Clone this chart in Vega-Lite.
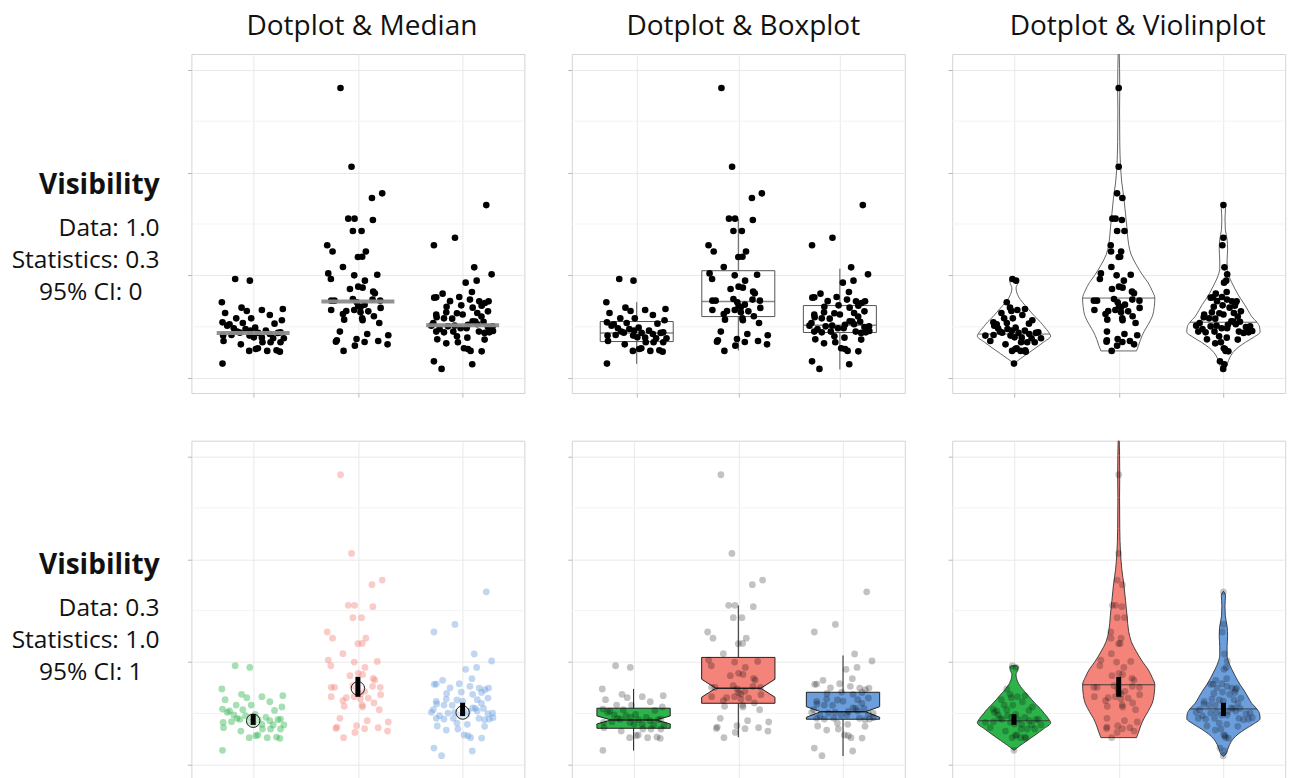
{
  "$schema": "https://vega.github.io/schema/vega-lite/v6.json",
  "padding": {"left": 0, "top": 12, "right": 0, "bottom": 0},
  "background": "white",
  "bounds": "flush",
  "align": "each",
  "columns": 4,
  "spacing": {"row": 47.7, "column": 47.4},
  "resolve": {"scale": {"x": "independent", "y": "independent", "color": "shared"}},
  "config": {
    "font": "Open Sans",
    "view": {"stroke": "#d4d4d4", "strokeWidth": 1},
    "axisX": {"labels": false, "domain": false, "ticks": true, "tickSize": 4, "tickColor": "#b8b8b8", "grid": true, "gridColor": "#e9e9e9", "tickCount": 3, "titleOpacity": 0},
    "axisY": {"labels": false, "domain": false, "ticks": true, "tickSize": 4, "tickColor": "#b8b8b8", "grid": true, "gridColor": "#e9e9e9", "titleOpacity": 0}
  },
  "datasets": {
    "lab1": [
      {"t": "Visibility", "line": 0, "k": "h"},
      {"t": "Data: 1.0", "line": 1.333, "k": "b"},
      {"t": "Statistics: 0.3", "line": 2.333, "k": "b"},
      {"t": "95% CI: 0", "line": 3.333, "k": "c"}
    ],
    "lab2": [
      {"t": "Visibility", "line": 0, "k": "h"},
      {"t": "Data: 0.3", "line": 1.333, "k": "b"},
      {"t": "Statistics: 1.0", "line": 2.333, "k": "b"},
      {"t": "95% CI: 1", "line": 3.333, "k": "c"}
    ],
    "grid": [
      {"v": 0, "major": true}, {"v": 0.5, "major": false}, {"v": 1, "major": true}, {"v": 1.5, "major": false},
      {"v": 2, "major": true}, {"v": 2.5, "major": false}, {"v": 3, "major": true}
    ],
    "stats": [
      {"g": "g1", "c": 1, "lo": 0.14, "q1": 0.357, "med": 0.44, "q3": 0.552, "hi": 0.74, "mean": 0.43, "cil": 0.39, "cih": 0.495, "nmed": 0.438, "nxl": 0.785, "nxr": 1.215, "vmed": 0.43, "vxl": 0.66, "vxr": 1.34},
      {"g": "g2", "c": 2, "lo": 0.27, "q1": 0.6, "med": 0.746, "q3": 1.046, "hi": 1.55, "mean": 0.745, "cil": 0.663, "cih": 0.857, "nmed": 0.746, "nxl": 1.785, "nxr": 2.215, "vmed": 0.78, "vxl": 1.655, "vxr": 2.345},
      {"g": "g3", "c": 3, "lo": 0.087, "q1": 0.445, "med": 0.515, "q3": 0.707, "hi": 1.065, "mean": 0.51, "cil": 0.476, "cih": 0.605, "nmed": 0.518, "nxl": 2.785, "nxr": 3.215, "vmed": 0.545, "vxl": 2.68, "vxr": 3.32}
    ],
    "notch": [
      {"g": "g1", "y": 0.357, "xl": 0.65, "xr": 1.35},
      {"g": "g1", "y": 0.399, "xl": 0.65, "xr": 1.35},
      {"g": "g1", "y": 0.438, "xl": 0.785, "xr": 1.215},
      {"g": "g1", "y": 0.477, "xl": 0.65, "xr": 1.35},
      {"g": "g1", "y": 0.552, "xl": 0.65, "xr": 1.35},
      {"g": "g2", "y": 0.6, "xl": 1.65, "xr": 2.35},
      {"g": "g2", "y": 0.659, "xl": 1.65, "xr": 2.35},
      {"g": "g2", "y": 0.746, "xl": 1.785, "xr": 2.215},
      {"g": "g2", "y": 0.834, "xl": 1.65, "xr": 2.35},
      {"g": "g2", "y": 1.046, "xl": 1.65, "xr": 2.35},
      {"g": "g3", "y": 0.445, "xl": 2.65, "xr": 3.35},
      {"g": "g3", "y": 0.464, "xl": 2.65, "xr": 3.35},
      {"g": "g3", "y": 0.518, "xl": 2.785, "xr": 3.215},
      {"g": "g3", "y": 0.567, "xl": 2.65, "xr": 3.35},
      {"g": "g3", "y": 0.707, "xl": 2.65, "xr": 3.35}
    ],
    "violin": [
      {"g": "g1", "y": 0.143, "xl": 1.0, "xr": 1.0},
      {"g": "g1", "y": 0.19, "xl": 0.94, "xr": 1.06},
      {"g": "g1", "y": 0.24, "xl": 0.87, "xr": 1.13},
      {"g": "g1", "y": 0.29, "xl": 0.8, "xr": 1.2},
      {"g": "g1", "y": 0.35, "xl": 0.72, "xr": 1.28},
      {"g": "g1", "y": 0.41, "xl": 0.65, "xr": 1.35},
      {"g": "g1", "y": 0.45, "xl": 0.67, "xr": 1.33},
      {"g": "g1", "y": 0.5, "xl": 0.71, "xr": 1.29},
      {"g": "g1", "y": 0.55, "xl": 0.75, "xr": 1.25},
      {"g": "g1", "y": 0.6, "xl": 0.8, "xr": 1.2},
      {"g": "g1", "y": 0.67, "xl": 0.86, "xr": 1.14},
      {"g": "g1", "y": 0.74, "xl": 0.92, "xr": 1.08},
      {"g": "g1", "y": 0.79, "xl": 0.955, "xr": 1.045},
      {"g": "g1", "y": 0.84, "xl": 0.975, "xr": 1.025},
      {"g": "g1", "y": 0.88, "xl": 0.98, "xr": 1.02},
      {"g": "g1", "y": 0.92, "xl": 0.965, "xr": 1.035},
      {"g": "g1", "y": 0.95, "xl": 0.96, "xr": 1.04},
      {"g": "g1", "y": 0.965, "xl": 0.97, "xr": 1.03},
      {"g": "g2", "y": 0.266, "xl": 1.83, "xr": 2.17},
      {"g": "g2", "y": 0.32, "xl": 1.81, "xr": 2.19},
      {"g": "g2", "y": 0.38, "xl": 1.79, "xr": 2.21},
      {"g": "g2", "y": 0.45, "xl": 1.76, "xr": 2.24},
      {"g": "g2", "y": 0.52, "xl": 1.72, "xr": 2.28},
      {"g": "g2", "y": 0.6, "xl": 1.68, "xr": 2.32},
      {"g": "g2", "y": 0.7, "xl": 1.66, "xr": 2.34},
      {"g": "g2", "y": 0.78, "xl": 1.655, "xr": 2.345},
      {"g": "g2", "y": 0.85, "xl": 1.68, "xr": 2.32},
      {"g": "g2", "y": 0.93, "xl": 1.72, "xr": 2.28},
      {"g": "g2", "y": 1.0, "xl": 1.77, "xr": 2.23},
      {"g": "g2", "y": 1.1, "xl": 1.83, "xr": 2.17},
      {"g": "g2", "y": 1.2, "xl": 1.88, "xr": 2.12},
      {"g": "g2", "y": 1.3, "xl": 1.905, "xr": 2.095},
      {"g": "g2", "y": 1.45, "xl": 1.92, "xr": 2.08},
      {"g": "g2", "y": 1.6, "xl": 1.935, "xr": 2.065},
      {"g": "g2", "y": 1.75, "xl": 1.95, "xr": 2.05},
      {"g": "g2", "y": 1.9, "xl": 1.97, "xr": 2.03},
      {"g": "g2", "y": 2.05, "xl": 1.982, "xr": 2.018},
      {"g": "g2", "y": 2.3, "xl": 1.99, "xr": 2.01},
      {"g": "g2", "y": 2.6, "xl": 1.992, "xr": 2.008},
      {"g": "g2", "y": 2.82, "xl": 1.99, "xr": 2.01},
      {"g": "g2", "y": 3.2, "xl": 1.996, "xr": 2.004},
      {"g": "g3", "y": 0.085, "xl": 3.0, "xr": 3.0},
      {"g": "g3", "y": 0.1, "xl": 2.98, "xr": 3.02},
      {"g": "g3", "y": 0.15, "xl": 2.96, "xr": 3.04},
      {"g": "g3", "y": 0.2, "xl": 2.94, "xr": 3.06},
      {"g": "g3", "y": 0.25, "xl": 2.91, "xr": 3.09},
      {"g": "g3", "y": 0.3, "xl": 2.86, "xr": 3.14},
      {"g": "g3", "y": 0.35, "xl": 2.79, "xr": 3.21},
      {"g": "g3", "y": 0.4, "xl": 2.71, "xr": 3.29},
      {"g": "g3", "y": 0.45, "xl": 2.65, "xr": 3.35},
      {"g": "g3", "y": 0.5, "xl": 2.655, "xr": 3.345},
      {"g": "g3", "y": 0.545, "xl": 2.68, "xr": 3.32},
      {"g": "g3", "y": 0.6, "xl": 2.73, "xr": 3.27},
      {"g": "g3", "y": 0.66, "xl": 2.765, "xr": 3.235},
      {"g": "g3", "y": 0.72, "xl": 2.8, "xr": 3.2},
      {"g": "g3", "y": 0.78, "xl": 2.84, "xr": 3.16},
      {"g": "g3", "y": 0.85, "xl": 2.88, "xr": 3.12},
      {"g": "g3", "y": 0.93, "xl": 2.92, "xr": 3.08},
      {"g": "g3", "y": 1.0, "xl": 2.95, "xr": 3.05},
      {"g": "g3", "y": 1.07, "xl": 2.965, "xr": 3.035},
      {"g": "g3", "y": 1.15, "xl": 2.965, "xr": 3.035},
      {"g": "g3", "y": 1.25, "xl": 2.96, "xr": 3.04},
      {"g": "g3", "y": 1.35, "xl": 2.965, "xr": 3.035},
      {"g": "g3", "y": 1.45, "xl": 2.982, "xr": 3.018},
      {"g": "g3", "y": 1.55, "xl": 2.985, "xr": 3.015},
      {"g": "g3", "y": 1.65, "xl": 2.98, "xr": 3.02},
      {"g": "g3", "y": 1.69, "xl": 3.0, "xr": 3.0}
    ],
    "pts": [
      {"g":"g1","x":0.828,"xs":0.985,"y":0.965},
      {"g":"g1","x":0.968,"xs":1.02,"y":0.949},
      {"g":"g1","x":0.701,"xs":0.931,"y":0.739},
      {"g":"g1","x":0.889,"xs":0.962,"y":0.687},
      {"g":"g1","x":0.939,"xs":0.975,"y":0.654},
      {"g":"g1","x":1.083,"xs":1.032,"y":0.664},
      {"g":"g1","x":1.283,"xs":1.105,"y":0.674},
      {"g":"g1","x":1.159,"xs":1.08,"y":0.615},
      {"g":"g1","x":0.732,"xs":0.88,"y":0.635},
      {"g":"g1","x":0.981,"xs":0.989,"y":0.583},
      {"g":"g1","x":0.838,"xs":0.906,"y":0.583},
      {"g":"g1","x":1.274,"xs":1.175,"y":0.564},
      {"g":"g1","x":0.707,"xs":0.803,"y":0.544},
      {"g":"g1","x":0.774,"xs":0.835,"y":0.525},
      {"g":"g1","x":0.901,"xs":0.932,"y":0.538},
      {"g":"g1","x":0.752,"xs":0.812,"y":0.512},
      {"g":"g1","x":1.204,"xs":1.143,"y":0.531},
      {"g":"g1","x":0.815,"xs":0.848,"y":0.486},
      {"g":"g1","x":1.019,"xs":1.016,"y":0.492},
      {"g":"g1","x":0.975,"xs":0.98,"y":0.463},
      {"g":"g1","x":1.121,"xs":1.104,"y":0.463},
      {"g":"g1","x":0.873,"xs":0.887,"y":0.444},
      {"g":"g1","x":0.793,"xs":0.805,"y":0.421},
      {"g":"g1","x":0.713,"xs":0.727,"y":0.415},
      {"g":"g1","x":0.965,"xs":0.967,"y":0.415},
      {"g":"g1","x":1.048,"xs":1.043,"y":0.441},
      {"g":"g1","x":1.159,"xs":1.146,"y":0.431},
      {"g":"g1","x":1.236,"xs":1.21,"y":0.441},
      {"g":"g1","x":1.083,"xs":1.074,"y":0.395},
      {"g":"g1","x":1.191,"xs":1.168,"y":0.389},
      {"g":"g1","x":1.293,"xs":1.258,"y":0.389},
      {"g":"g1","x":0.717,"xs":0.774,"y":0.363},
      {"g":"g1","x":0.882,"xs":0.919,"y":0.33},
      {"g":"g1","x":1.089,"xs":1.068,"y":0.35},
      {"g":"g1","x":1.166,"xs":1.126,"y":0.35},
      {"g":"g1","x":1.261,"xs":1.198,"y":0.35},
      {"g":"g1","x":1.045,"xs":1.025,"y":0.292},
      {"g":"g1","x":0.962,"xs":0.982,"y":0.266},
      {"g":"g1","x":1.134,"xs":1.063,"y":0.266},
      {"g":"g1","x":1.223,"xs":1.107,"y":0.272},
      {"g":"g1","x":1.255,"xs":1.112,"y":0.259},
      {"g":"g1","x":1.025,"xs":1.013,"y":0.285},
      {"g":"g1","x":0.707,"xs":1.0,"y":0.143},
      {"g":"g1","x":0.927,"xs":0.938,"y":0.479},
      {"g":"g1","x":1.006,"xs":1.006,"y":0.398},
      {"g":"g1","x":0.847,"xs":0.865,"y":0.454},
      {"g":"g1","x":1.261,"xs":1.232,"y":0.447},
      {"g":"g2","x":1.834,"xs":2.0,"y":2.822},
      {"g":"g2","x":1.939,"xs":2.0,"y":2.057},
      {"g":"g2","x":2.232,"xs":1.984,"y":1.798},
      {"g":"g2","x":2.134,"xs":2.035,"y":1.753},
      {"g":"g2","x":1.908,"xs":1.94,"y":1.552},
      {"g":"g2","x":1.968,"xs":1.97,"y":1.552},
      {"g":"g2","x":2.143,"xs":2.03,"y":1.539},
      {"g":"g2","x":1.952,"xs":1.985,"y":1.432},
      {"g":"g2","x":2.035,"xs":2.055,"y":1.432},
      {"g":"g2","x":1.707,"xs":1.924,"y":1.293},
      {"g":"g2","x":1.758,"xs":1.927,"y":1.233},
      {"g":"g2","x":2.076,"xs":2.023,"y":1.233},
      {"g":"g2","x":2.0,"xs":2.0,"y":1.179},
      {"g":"g2","x":2.041,"xs":2.014,"y":1.182},
      {"g":"g2","x":1.857,"xs":1.93,"y":1.082},
      {"g":"g2","x":1.717,"xs":1.83,"y":1.02},
      {"g":"g2","x":1.742,"xs":1.82,"y":0.965},
      {"g":"g2","x":1.965,"xs":1.98,"y":1.001},
      {"g":"g2","x":2.185,"xs":2.115,"y":1.007},
      {"g":"g2","x":2.067,"xs":2.049,"y":0.949},
      {"g":"g2","x":1.924,"xs":1.936,"y":0.868},
      {"g":"g2","x":2.003,"xs":2.003,"y":0.891},
      {"g":"g2","x":2.045,"xs":2.037,"y":0.881},
      {"g":"g2","x":2.146,"xs":2.127,"y":0.842},
      {"g":"g2","x":2.162,"xs":2.146,"y":0.826},
      {"g":"g2","x":1.745,"xs":1.763,"y":0.755},
      {"g":"g2","x":1.777,"xs":1.793,"y":0.755},
      {"g":"g2","x":1.952,"xs":1.955,"y":0.771},
      {"g":"g2","x":2.14,"xs":2.13,"y":0.765},
      {"g":"g2","x":2.213,"xs":2.198,"y":0.755},
      {"g":"g2","x":1.99,"xs":1.99,"y":0.739},
      {"g":"g2","x":2.025,"xs":2.023,"y":0.69},
      {"g":"g2","x":2.003,"xs":2.003,"y":0.703},
      {"g":"g2","x":2.064,"xs":2.06,"y":0.716},
      {"g":"g2","x":2.217,"xs":2.2,"y":0.684},
      {"g":"g2","x":1.745,"xs":1.768,"y":0.664},
      {"g":"g2","x":1.889,"xs":1.9,"y":0.654},
      {"g":"g2","x":1.857,"xs":1.874,"y":0.625},
      {"g":"g2","x":1.965,"xs":1.968,"y":0.664},
      {"g":"g2","x":2.025,"xs":2.022,"y":0.641},
      {"g":"g2","x":2.099,"xs":2.09,"y":0.651},
      {"g":"g2","x":2.153,"xs":2.133,"y":0.603},
      {"g":"g2","x":2.041,"xs":2.034,"y":0.583},
      {"g":"g2","x":1.869,"xs":1.891,"y":0.57},
      {"g":"g2","x":2.045,"xs":2.037,"y":0.564},
      {"g":"g2","x":2.204,"xs":2.161,"y":0.538},
      {"g":"g2","x":1.828,"xs":1.888,"y":0.454},
      {"g":"g2","x":2.089,"xs":2.055,"y":0.431},
      {"g":"g2","x":2.29,"xs":2.177,"y":0.418},
      {"g":"g2","x":1.987,"xs":1.99,"y":0.382},
      {"g":"g2","x":2.064,"xs":2.035,"y":0.353},
      {"g":"g2","x":2.194,"xs":2.107,"y":0.363},
      {"g":"g2","x":2.283,"xs":2.147,"y":0.33},
      {"g":"g2","x":1.799,"xs":1.887,"y":0.369},
      {"g":"g2","x":1.79,"xs":1.884,"y":0.356},
      {"g":"g2","x":1.971,"xs":1.985,"y":0.317},
      {"g":"g2","x":1.863,"xs":1.933,"y":0.266},
      {"g":"g3","x":3.226,"xs":3.0,"y":1.684},
      {"g":"g3","x":2.927,"xs":3.0,"y":1.367},
      {"g":"g3","x":2.726,"xs":2.99,"y":1.293},
      {"g":"g3","x":3.111,"xs":3.01,"y":1.079},
      {"g":"g3","x":3.277,"xs":3.036,"y":1.011},
      {"g":"g3","x":3.029,"xs":3.006,"y":0.93},
      {"g":"g3","x":3.134,"xs":3.027,"y":0.949},
      {"g":"g3","x":3.089,"xs":3.031,"y":0.839},
      {"g":"g3","x":2.809,"xs":2.927,"y":0.823},
      {"g":"g3","x":2.729,"xs":2.878,"y":0.784},
      {"g":"g3","x":2.748,"xs":2.9,"y":0.787},
      {"g":"g3","x":2.968,"xs":2.986,"y":0.79},
      {"g":"g3","x":3.07,"xs":3.034,"y":0.765},
      {"g":"g3","x":3.159,"xs":3.081,"y":0.748},
      {"g":"g3","x":3.248,"xs":3.126,"y":0.748},
      {"g":"g3","x":3.213,"xs":3.115,"y":0.732},
      {"g":"g3","x":3.182,"xs":3.109,"y":0.706},
      {"g":"g3","x":2.987,"xs":2.992,"y":0.709},
      {"g":"g3","x":2.847,"xs":2.908,"y":0.696},
      {"g":"g3","x":3.096,"xs":3.059,"y":0.687},
      {"g":"g3","x":2.946,"xs":2.961,"y":0.632},
      {"g":"g3","x":3.14,"xs":3.1,"y":0.635},
      {"g":"g3","x":3.242,"xs":3.167,"y":0.651},
      {"g":"g3","x":2.748,"xs":2.816,"y":0.619},
      {"g":"g3","x":2.844,"xs":2.89,"y":0.641},
      {"g":"g3","x":2.752,"xs":2.812,"y":0.593},
      {"g":"g3","x":2.822,"xs":2.863,"y":0.583},
      {"g":"g3","x":3.096,"xs":3.076,"y":0.554},
      {"g":"g3","x":3.121,"xs":3.096,"y":0.551},
      {"g":"g3","x":3.14,"xs":3.118,"y":0.525},
      {"g":"g3","x":2.72,"xs":2.773,"y":0.538},
      {"g":"g3","x":2.701,"xs":2.74,"y":0.512},
      {"g":"g3","x":2.86,"xs":2.878,"y":0.505},
      {"g":"g3","x":2.924,"xs":2.934,"y":0.512},
      {"g":"g3","x":2.981,"xs":2.983,"y":0.486},
      {"g":"g3","x":3.038,"xs":3.035,"y":0.486},
      {"g":"g3","x":3.242,"xs":3.215,"y":0.499},
      {"g":"g3","x":3.287,"xs":3.255,"y":0.505},
      {"g":"g3","x":2.78,"xs":2.8,"y":0.479},
      {"g":"g3","x":2.748,"xs":2.76,"y":0.454},
      {"g":"g3","x":2.822,"xs":2.83,"y":0.447},
      {"g":"g3","x":2.911,"xs":2.915,"y":0.454},
      {"g":"g3","x":3.156,"xs":3.148,"y":0.454},
      {"g":"g3","x":3.21,"xs":3.193,"y":0.441},
      {"g":"g3","x":3.255,"xs":3.24,"y":0.447},
      {"g":"g3","x":3.29,"xs":3.275,"y":0.46},
      {"g":"g3","x":2.946,"xs":2.959,"y":0.408},
      {"g":"g3","x":3.045,"xs":3.032,"y":0.395},
      {"g":"g3","x":2.758,"xs":2.843,"y":0.379},
      {"g":"g3","x":3.21,"xs":3.137,"y":0.376},
      {"g":"g3","x":2.844,"xs":2.922,"y":0.34},
      {"g":"g3","x":2.955,"xs":2.976,"y":0.35},
      {"g":"g3","x":3.013,"xs":3.004,"y":0.292},
      {"g":"g3","x":3.076,"xs":3.021,"y":0.266},
      {"g":"g3","x":3.051,"xs":3.015,"y":0.285},
      {"g":"g3","x":3.182,"xs":3.047,"y":0.262},
      {"g":"g3","x":2.726,"xs":2.967,"y":0.165},
      {"g":"g3","x":3.092,"xs":3.009,"y":0.136},
      {"g":"g3","x":2.799,"xs":2.998,"y":0.091},
      {"g":"g3","x":3.18,"xs":3.137,"y":0.6},
      {"g":"g3","x":2.9,"xs":2.922,"y":0.58},
      {"g":"g3","x":3.0,"xs":3.0,"y":0.62},
      {"g":"g3","x":3.2,"xs":3.158,"y":0.55},
      {"g":"g3","x":2.88,"xs":2.939,"y":0.75},
      {"g":"g3","x":3.05,"xs":3.043,"y":0.52}
    ]
  },
  "concat": [
    {
      "width": 143.6, "height": 339,
      "view": {"stroke": null},
      "data": {"name": "lab1"},
      "encoding": {
        "x": {"datum": 1, "type": "quantitative", "scale": {"domain": [0, 1]}, "axis": null},
        "y": {"field": "line", "type": "quantitative", "scale": {"domain": [6.28, -4.42], "nice": false, "zero": false}, "axis": null},
        "text": {"field": "t"}
      },
      "layer": [
        {"transform": [{"filter": "datum.k == 'h'"}], "mark": {"type": "text", "align": "right", "baseline": "alphabetic", "font": "Open Sans", "fontSize": 28, "fontWeight": "bold", "color": "#111", "dx": 16}},
        {"transform": [{"filter": "datum.k == 'b'"}], "mark": {"type": "text", "align": "right", "baseline": "alphabetic", "font": "Open Sans", "fontSize": 24.5, "color": "#111", "dx": 16}},
        {"transform": [{"filter": "datum.k == 'c'"}], "mark": {"type": "text", "align": "right", "baseline": "alphabetic", "font": "Open Sans", "fontSize": 24.5, "color": "#111", "dx": -1}}
      ]
    },
    {
      "width": 333, "height": 339,
      "title": {"text": "Dotplot & Median", "font": "Open Sans", "fontSize": 28, "fontWeight": "normal", "color": "#111", "anchor": "middle", "frame": "group", "baseline": "alphabetic", "offset": -8.6, "dx": 4},
      "layer": [
        {
          "data": {"name": "grid"},
          "transform": [{"filter": "!datum.major"}],
          "mark": {"type": "rule", "color": "#f3f3f3", "strokeWidth": 1},
          "encoding": {"y": {"field": "v", "type": "quantitative", "scale": {"domain": [-0.143, 3.153], "nice": false, "zero": false}, "axis": {"values": [0, 1, 2, 3], "title": null}}}
        },
        {
          "data": {"name": "pts"},
          "mark": {"type": "circle", "size": 44, "color": "black", "opacity": 1},
          "encoding": {"x": {"field": "x", "type": "quantitative", "scale": {"domain": [0.41, 3.59], "nice": false, "zero": false}, "axis": {"values": [1, 2, 3], "title": null}}, "y": {"field": "y", "type": "quantitative", "scale": {"domain": [-0.143, 3.153], "nice": false, "zero": false}, "axis": {"values": [0, 1, 2, 3], "title": null}}}
        },
        {
          "data": {"name": "stats"},
          "mark": {"type": "tick", "orient": "horizontal", "size": 73, "thickness": 4, "color": "#8c8c8c", "opacity": 0.95},
          "encoding": {"x": {"field": "c", "type": "quantitative", "scale": {"domain": [0.41, 3.59], "nice": false, "zero": false}, "axis": {"values": [1, 2, 3], "title": null}}, "y": {"field": "med", "type": "quantitative", "scale": {"domain": [-0.143, 3.153], "nice": false, "zero": false}, "axis": {"values": [0, 1, 2, 3], "title": null}}}
        }
      ]
    },
    {
      "width": 333, "height": 339,
      "title": {"text": "Dotplot & Boxplot", "font": "Open Sans", "fontSize": 28, "fontWeight": "normal", "color": "#111", "anchor": "middle", "frame": "group", "baseline": "alphabetic", "offset": -8.6, "dx": 5},
      "layer": [
        {
          "data": {"name": "grid"},
          "transform": [{"filter": "!datum.major"}],
          "mark": {"type": "rule", "color": "#f3f3f3", "strokeWidth": 1},
          "encoding": {"y": {"field": "v", "type": "quantitative", "scale": {"domain": [-0.143, 3.153], "nice": false, "zero": false}, "axis": {"values": [0, 1, 2, 3], "title": null}}}
        },
        {
          "data": {"name": "stats"},
          "mark": {"type": "rule", "color": "#555", "strokeWidth": 1},
          "encoding": {"x": {"field": "c", "type": "quantitative", "scale": {"domain": [0.41, 3.59], "nice": false, "zero": false}, "axis": {"values": [1, 2, 3], "title": null}}, "y": {"field": "q3", "type": "quantitative", "scale": {"domain": [-0.143, 3.153], "nice": false, "zero": false}, "axis": {"values": [0, 1, 2, 3], "title": null}}, "y2": {"field": "hi"}}
        },
        {
          "data": {"name": "stats"},
          "mark": {"type": "rule", "color": "#555", "strokeWidth": 1},
          "encoding": {"x": {"field": "c", "type": "quantitative", "scale": {"domain": [0.41, 3.59], "nice": false, "zero": false}, "axis": {"values": [1, 2, 3], "title": null}}, "y": {"field": "lo", "type": "quantitative", "scale": {"domain": [-0.143, 3.153], "nice": false, "zero": false}, "axis": {"values": [0, 1, 2, 3], "title": null}}, "y2": {"field": "q1"}}
        },
        {
          "data": {"name": "stats"},
          "mark": {"type": "bar", "size": 73, "fill": "white", "fillOpacity": 0, "stroke": "#555", "strokeWidth": 1},
          "encoding": {"x": {"field": "c", "type": "quantitative", "scale": {"domain": [0.41, 3.59], "nice": false, "zero": false}, "axis": {"values": [1, 2, 3], "title": null}}, "y": {"field": "q1", "type": "quantitative", "scale": {"domain": [-0.143, 3.153], "nice": false, "zero": false}, "axis": {"values": [0, 1, 2, 3], "title": null}}, "y2": {"field": "q3"}}
        },
        {
          "data": {"name": "stats"},
          "mark": {"type": "tick", "orient": "horizontal", "size": 73, "thickness": 1.5, "color": "#555"},
          "encoding": {"x": {"field": "c", "type": "quantitative", "scale": {"domain": [0.41, 3.59], "nice": false, "zero": false}, "axis": {"values": [1, 2, 3], "title": null}}, "y": {"field": "med", "type": "quantitative", "scale": {"domain": [-0.143, 3.153], "nice": false, "zero": false}, "axis": {"values": [0, 1, 2, 3], "title": null}}}
        },
        {
          "data": {"name": "pts"},
          "mark": {"type": "circle", "size": 44, "color": "black", "opacity": 1},
          "encoding": {"x": {"field": "x", "type": "quantitative", "scale": {"domain": [0.41, 3.59], "nice": false, "zero": false}, "axis": {"values": [1, 2, 3], "title": null}}, "y": {"field": "y", "type": "quantitative", "scale": {"domain": [-0.143, 3.153], "nice": false, "zero": false}, "axis": {"values": [0, 1, 2, 3], "title": null}}}
        }
      ]
    },
    {
      "width": 333, "height": 339,
      "title": {"text": "Dotplot & Violinplot", "font": "Open Sans", "fontSize": 28, "fontWeight": "normal", "color": "#111", "anchor": "middle", "frame": "group", "baseline": "alphabetic", "offset": -8.6, "dx": 19},
      "layer": [
        {
          "data": {"name": "grid"},
          "transform": [{"filter": "!datum.major"}],
          "mark": {"type": "rule", "color": "#f3f3f3", "strokeWidth": 1},
          "encoding": {"y": {"field": "v", "type": "quantitative", "scale": {"domain": [-0.143, 3.153], "nice": false, "zero": false}, "axis": {"values": [0, 1, 2, 3], "title": null}}}
        },
        {
          "data": {"name": "violin"},
          "mark": {"type": "area", "orient": "horizontal", "interpolate": "monotone", "fill": "white", "stroke": "#555", "strokeWidth": 0.9, "clip": true},
          "encoding": {"y": {"field": "y", "type": "quantitative", "scale": {"domain": [-0.143, 3.153], "nice": false, "zero": false}, "axis": {"values": [0, 1, 2, 3], "title": null}}, "x": {"field": "xl", "type": "quantitative", "scale": {"domain": [0.41, 3.59], "nice": false, "zero": false}, "axis": {"values": [1, 2, 3], "title": null}}, "x2": {"field": "xr"}, "detail": {"field": "g"}}
        },
        {
          "data": {"name": "stats"},
          "mark": {"type": "rule", "color": "#555", "strokeWidth": 0.9},
          "encoding": {"x": {"field": "vxl", "type": "quantitative", "scale": {"domain": [0.41, 3.59], "nice": false, "zero": false}, "axis": {"values": [1, 2, 3], "title": null}}, "x2": {"field": "vxr"}, "y": {"field": "vmed", "type": "quantitative", "scale": {"domain": [-0.143, 3.153], "nice": false, "zero": false}, "axis": {"values": [0, 1, 2, 3], "title": null}}}
        },
        {
          "data": {"name": "pts"},
          "mark": {"type": "circle", "size": 44, "color": "black", "opacity": 1},
          "encoding": {"x": {"field": "xs", "type": "quantitative", "scale": {"domain": [0.41, 3.59], "nice": false, "zero": false}, "axis": {"values": [1, 2, 3], "title": null}}, "y": {"field": "y", "type": "quantitative", "scale": {"domain": [-0.143, 3.153], "nice": false, "zero": false}, "axis": {"values": [0, 1, 2, 3], "title": null}}}
        }
      ]
    },
    {
      "width": 143.6, "height": 339,
      "view": {"stroke": null},
      "data": {"name": "lab2"},
      "encoding": {
        "x": {"datum": 1, "type": "quantitative", "scale": {"domain": [0, 1]}, "axis": null},
        "y": {"field": "line", "type": "quantitative", "scale": {"domain": [6.49, -4.21], "nice": false, "zero": false}, "axis": null},
        "text": {"field": "t"}
      },
      "layer": [
        {"transform": [{"filter": "datum.k == 'h'"}], "mark": {"type": "text", "align": "right", "baseline": "alphabetic", "font": "Open Sans", "fontSize": 28, "fontWeight": "bold", "color": "#111", "dx": 16}},
        {"transform": [{"filter": "datum.k == 'b'"}], "mark": {"type": "text", "align": "right", "baseline": "alphabetic", "font": "Open Sans", "fontSize": 24.5, "color": "#111", "dx": 16}},
        {"transform": [{"filter": "datum.k == 'c'"}], "mark": {"type": "text", "align": "right", "baseline": "alphabetic", "font": "Open Sans", "fontSize": 24.5, "color": "#111", "dx": -1}}
      ]
    },
    {
      "width": 333, "height": 339,
      "layer": [
        {
          "data": {"name": "grid"},
          "transform": [{"filter": "!datum.major"}],
          "mark": {"type": "rule", "color": "#f3f3f3", "strokeWidth": 1},
          "encoding": {"y": {"field": "v", "type": "quantitative", "scale": {"domain": [-0.143, 3.153], "nice": false, "zero": false}, "axis": {"values": [0, 1, 2, 3], "title": null}}}
        },
        {
          "data": {"name": "pts"},
          "mark": {"type": "circle", "size": 46, "opacity": 0.42},
          "encoding": {"x": {"field": "x", "type": "quantitative", "scale": {"domain": [0.41, 3.59], "nice": false, "zero": false}, "axis": {"values": [1, 2, 3], "title": null}}, "y": {"field": "y", "type": "quantitative", "scale": {"domain": [-0.143, 3.153], "nice": false, "zero": false}, "axis": {"values": [0, 1, 2, 3], "title": null}}, "color": {"field": "g", "type": "nominal", "scale": {"domain": ["g1", "g2", "g3"], "range": ["#2CB34A", "#F4837A", "#6A9EDD"]}, "legend": null}}
        },
        {
          "data": {"name": "stats"},
          "mark": {"type": "point", "shape": "circle", "size": 180, "filled": false, "stroke": "#222", "strokeWidth": 1, "fill": "white", "fillOpacity": 0.35, "opacity": 1},
          "encoding": {"x": {"field": "c", "type": "quantitative", "scale": {"domain": [0.41, 3.59], "nice": false, "zero": false}, "axis": {"values": [1, 2, 3], "title": null}}, "y": {"field": "mean", "type": "quantitative", "scale": {"domain": [-0.143, 3.153], "nice": false, "zero": false}, "axis": {"values": [0, 1, 2, 3], "title": null}}}
        },
        {
          "data": {"name": "stats"},
          "mark": {"type": "rule", "color": "black", "strokeWidth": 5},
          "encoding": {"x": {"field": "c", "type": "quantitative", "scale": {"domain": [0.41, 3.59], "nice": false, "zero": false}, "axis": {"values": [1, 2, 3], "title": null}}, "y": {"field": "cil", "type": "quantitative", "scale": {"domain": [-0.143, 3.153], "nice": false, "zero": false}, "axis": {"values": [0, 1, 2, 3], "title": null}}, "y2": {"field": "cih"}}
        }
      ]
    },
    {
      "width": 333, "height": 339,
      "layer": [
        {
          "data": {"name": "grid"},
          "transform": [{"filter": "!datum.major"}],
          "mark": {"type": "rule", "color": "#f3f3f3", "strokeWidth": 1},
          "encoding": {"y": {"field": "v", "type": "quantitative", "scale": {"domain": [-0.143, 3.153], "nice": false, "zero": false}, "axis": {"values": [0, 1, 2, 3], "title": null}}}
        },
        {
          "data": {"name": "stats"},
          "mark": {"type": "rule", "color": "#222", "strokeWidth": 1},
          "encoding": {"x": {"field": "c", "type": "quantitative", "scale": {"domain": [0.41, 3.59], "nice": false, "zero": false}, "axis": {"values": [1, 2, 3], "title": null}}, "y": {"field": "lo", "type": "quantitative", "scale": {"domain": [-0.143, 3.153], "nice": false, "zero": false}, "axis": {"values": [0, 1, 2, 3], "title": null}}, "y2": {"field": "hi"}}
        },
        {
          "data": {"name": "notch"},
          "mark": {"type": "area", "orient": "horizontal", "interpolate": "linear", "stroke": "#222", "strokeWidth": 1, "opacity": 1},
          "encoding": {"y": {"field": "y", "type": "quantitative", "scale": {"domain": [-0.143, 3.153], "nice": false, "zero": false}, "axis": {"values": [0, 1, 2, 3], "title": null}}, "x": {"field": "xl", "type": "quantitative", "scale": {"domain": [0.41, 3.59], "nice": false, "zero": false}, "axis": {"values": [1, 2, 3], "title": null}}, "x2": {"field": "xr"}, "color": {"field": "g", "type": "nominal", "scale": {"domain": ["g1", "g2", "g3"], "range": ["#2CB34A", "#F4837A", "#6A9EDD"]}, "legend": null}}
        },
        {
          "data": {"name": "stats"},
          "mark": {"type": "rule", "color": "#222", "strokeWidth": 1.5},
          "encoding": {"x": {"field": "nxl", "type": "quantitative", "scale": {"domain": [0.41, 3.59], "nice": false, "zero": false}, "axis": {"values": [1, 2, 3], "title": null}}, "x2": {"field": "nxr"}, "y": {"field": "nmed", "type": "quantitative", "scale": {"domain": [-0.143, 3.153], "nice": false, "zero": false}, "axis": {"values": [0, 1, 2, 3], "title": null}}}
        },
        {
          "data": {"name": "pts"},
          "mark": {"type": "circle", "size": 46, "color": "black", "opacity": 0.24},
          "encoding": {"x": {"field": "x", "type": "quantitative", "scale": {"domain": [0.41, 3.59], "nice": false, "zero": false}, "axis": {"values": [1, 2, 3], "title": null}}, "y": {"field": "y", "type": "quantitative", "scale": {"domain": [-0.143, 3.153], "nice": false, "zero": false}, "axis": {"values": [0, 1, 2, 3], "title": null}}}
        }
      ]
    },
    {
      "width": 333, "height": 339,
      "layer": [
        {
          "data": {"name": "grid"},
          "transform": [{"filter": "!datum.major"}],
          "mark": {"type": "rule", "color": "#f3f3f3", "strokeWidth": 1},
          "encoding": {"y": {"field": "v", "type": "quantitative", "scale": {"domain": [-0.143, 3.153], "nice": false, "zero": false}, "axis": {"values": [0, 1, 2, 3], "title": null}}}
        },
        {
          "data": {"name": "violin"},
          "mark": {"type": "area", "orient": "horizontal", "interpolate": "monotone", "stroke": "#333", "strokeWidth": 0.9, "opacity": 1, "clip": true},
          "encoding": {"y": {"field": "y", "type": "quantitative", "scale": {"domain": [-0.143, 3.153], "nice": false, "zero": false}, "axis": {"values": [0, 1, 2, 3], "title": null}}, "x": {"field": "xl", "type": "quantitative", "scale": {"domain": [0.41, 3.59], "nice": false, "zero": false}, "axis": {"values": [1, 2, 3], "title": null}}, "x2": {"field": "xr"}, "color": {"field": "g", "type": "nominal", "scale": {"domain": ["g1", "g2", "g3"], "range": ["#2CB34A", "#F4837A", "#6A9EDD"]}, "legend": null}}
        },
        {
          "data": {"name": "stats"},
          "mark": {"type": "rule", "color": "#333", "strokeWidth": 0.9},
          "encoding": {"x": {"field": "vxl", "type": "quantitative", "scale": {"domain": [0.41, 3.59], "nice": false, "zero": false}, "axis": {"values": [1, 2, 3], "title": null}}, "x2": {"field": "vxr"}, "y": {"field": "vmed", "type": "quantitative", "scale": {"domain": [-0.143, 3.153], "nice": false, "zero": false}, "axis": {"values": [0, 1, 2, 3], "title": null}}}
        },
        {
          "data": {"name": "pts"},
          "mark": {"type": "circle", "size": 46, "color": "black", "opacity": 0.22},
          "encoding": {"x": {"field": "xs", "type": "quantitative", "scale": {"domain": [0.41, 3.59], "nice": false, "zero": false}, "axis": {"values": [1, 2, 3], "title": null}}, "y": {"field": "y", "type": "quantitative", "scale": {"domain": [-0.143, 3.153], "nice": false, "zero": false}, "axis": {"values": [0, 1, 2, 3], "title": null}}}
        },
        {
          "data": {"name": "stats"},
          "mark": {"type": "rule", "color": "black", "strokeWidth": 5},
          "encoding": {"x": {"field": "c", "type": "quantitative", "scale": {"domain": [0.41, 3.59], "nice": false, "zero": false}, "axis": {"values": [1, 2, 3], "title": null}}, "y": {"field": "cil", "type": "quantitative", "scale": {"domain": [-0.143, 3.153], "nice": false, "zero": false}, "axis": {"values": [0, 1, 2, 3], "title": null}}, "y2": {"field": "cih"}}
        }
      ]
    }
  ]
}
